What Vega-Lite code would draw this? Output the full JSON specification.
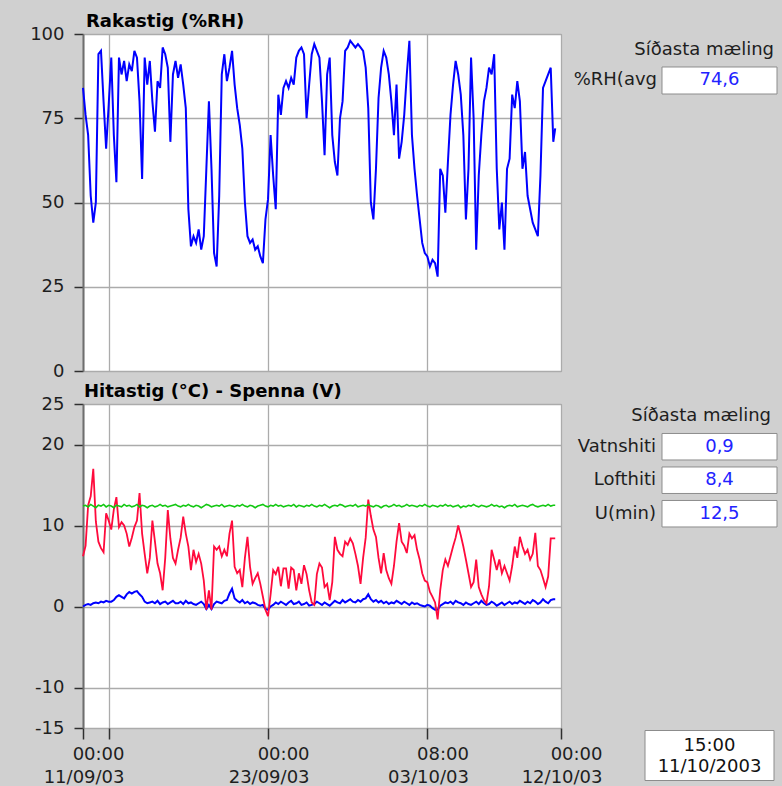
{
  "$schema": "https://vega.github.io/schema/vega-lite/v6.json",
  "background": "#d0d0d0",
  "padding": {"left": 29, "top": 12, "right": 4, "bottom": 4},
  "datasets": {
    "d": [
      {"t":"2003-09-11T00:00Z","rh":84,"a":6.2,"w":0.0,"v":12.4},
      {"t":"2003-09-11T04:00Z","rh":76,"a":7.5,"w":0.2,"v":12.5},
      {"t":"2003-09-11T08:00Z","rh":70,"a":12.5,"w":0.3,"v":12.3},
      {"t":"2003-09-11T12:00Z","rh":52,"a":13.6,"w":0.2,"v":12.6},
      {"t":"2003-09-11T16:00Z","rh":44,"a":17.0,"w":0.4,"v":12.4},
      {"t":"2003-09-11T20:00Z","rh":50,"a":10.5,"w":0.5,"v":12.2},
      {"t":"2003-09-12T00:00Z","rh":94,"a":8.0,"w":0.4,"v":12.5},
      {"t":"2003-09-12T04:00Z","rh":95,"a":7.2,"w":0.6,"v":12.4},
      {"t":"2003-09-12T08:00Z","rh":80,"a":6.7,"w":0.5,"v":12.6},
      {"t":"2003-09-12T12:00Z","rh":66,"a":11.5,"w":0.7,"v":12.3},
      {"t":"2003-09-12T16:00Z","rh":79,"a":10.6,"w":0.6,"v":12.5},
      {"t":"2003-09-12T20:00Z","rh":93,"a":9.5,"w":0.6,"v":12.4},
      {"t":"2003-09-13T00:00Z","rh":70,"a":12.0,"w":0.8,"v":12.2},
      {"t":"2003-09-13T04:00Z","rh":56,"a":13.5,"w":1.2,"v":12.5},
      {"t":"2003-09-13T08:00Z","rh":93,"a":9.8,"w":1.4,"v":12.4},
      {"t":"2003-09-13T12:00Z","rh":88,"a":10.4,"w":1.2,"v":12.3},
      {"t":"2003-09-13T16:00Z","rh":92,"a":10.0,"w":1.0,"v":12.6},
      {"t":"2003-09-13T20:00Z","rh":86,"a":9.0,"w":1.5,"v":12.4},
      {"t":"2003-09-14T00:00Z","rh":91,"a":7.4,"w":1.8,"v":12.5},
      {"t":"2003-09-14T04:00Z","rh":89,"a":8.5,"w":1.6,"v":12.3},
      {"t":"2003-09-14T08:00Z","rh":95,"a":9.8,"w":1.8,"v":12.4},
      {"t":"2003-09-14T12:00Z","rh":93,"a":10.6,"w":1.9,"v":12.6},
      {"t":"2003-09-14T16:00Z","rh":80,"a":14.0,"w":1.5,"v":12.3},
      {"t":"2003-09-14T20:00Z","rh":57,"a":9.0,"w":1.2,"v":12.5},
      {"t":"2003-09-15T00:00Z","rh":93,"a":6.5,"w":0.6,"v":12.4},
      {"t":"2003-09-15T04:00Z","rh":85,"a":4.1,"w":0.4,"v":12.2},
      {"t":"2003-09-15T08:00Z","rh":92,"a":6.0,"w":0.5,"v":12.4},
      {"t":"2003-09-15T12:00Z","rh":80,"a":10.6,"w":0.6,"v":12.5},
      {"t":"2003-09-15T16:00Z","rh":71,"a":8.0,"w":0.4,"v":12.3},
      {"t":"2003-09-15T20:00Z","rh":86,"a":5.3,"w":0.7,"v":12.4},
      {"t":"2003-09-16T00:00Z","rh":84,"a":4.1,"w":0.3,"v":12.6},
      {"t":"2003-09-16T04:00Z","rh":96,"a":2.0,"w":0.5,"v":12.4},
      {"t":"2003-09-16T08:00Z","rh":94,"a":6.0,"w":0.6,"v":12.5},
      {"t":"2003-09-16T12:00Z","rh":90,"a":11.9,"w":0.3,"v":12.3},
      {"t":"2003-09-16T16:00Z","rh":68,"a":8.4,"w":0.5,"v":12.4},
      {"t":"2003-09-16T20:00Z","rh":88,"a":6.0,"w":0.7,"v":12.5},
      {"t":"2003-09-17T00:00Z","rh":92,"a":5.3,"w":0.4,"v":12.6},
      {"t":"2003-09-17T04:00Z","rh":87,"a":7.0,"w":0.4,"v":12.4},
      {"t":"2003-09-17T08:00Z","rh":91,"a":8.5,"w":0.6,"v":12.3},
      {"t":"2003-09-17T12:00Z","rh":85,"a":11.1,"w":0.3,"v":12.5},
      {"t":"2003-09-17T16:00Z","rh":78,"a":9.0,"w":0.7,"v":12.4},
      {"t":"2003-09-17T20:00Z","rh":48,"a":7.4,"w":0.4,"v":12.6},
      {"t":"2003-09-18T00:00Z","rh":37,"a":4.5,"w":0.5,"v":12.4},
      {"t":"2003-09-18T04:00Z","rh":40,"a":7.0,"w":0.3,"v":12.3},
      {"t":"2003-09-18T08:00Z","rh":38,"a":5.5,"w":0.2,"v":12.5},
      {"t":"2003-09-18T12:00Z","rh":42,"a":6.5,"w":0.4,"v":12.4},
      {"t":"2003-09-18T16:00Z","rh":36,"a":5.3,"w":0.6,"v":12.2},
      {"t":"2003-09-18T20:00Z","rh":40,"a":3.2,"w":0.3,"v":12.4},
      {"t":"2003-09-19T00:00Z","rh":60,"a":-0.4,"w":-0.3,"v":12.6},
      {"t":"2003-09-19T04:00Z","rh":80,"a":2.0,"w":0.2,"v":12.5},
      {"t":"2003-09-19T08:00Z","rh":60,"a":-0.4,"w":-0.3,"v":12.3},
      {"t":"2003-09-19T12:00Z","rh":35,"a":7.4,"w":0.3,"v":12.4},
      {"t":"2003-09-19T16:00Z","rh":31,"a":7.0,"w":0.6,"v":12.5},
      {"t":"2003-09-19T20:00Z","rh":52,"a":7.4,"w":0.5,"v":12.4},
      {"t":"2003-09-20T00:00Z","rh":88,"a":6.2,"w":0.4,"v":12.6},
      {"t":"2003-09-20T04:00Z","rh":94,"a":7.0,"w":0.7,"v":12.3},
      {"t":"2003-09-20T08:00Z","rh":86,"a":6.2,"w":0.8,"v":12.4},
      {"t":"2003-09-20T12:00Z","rh":90,"a":9.0,"w":1.6,"v":12.5},
      {"t":"2003-09-20T16:00Z","rh":95,"a":10.6,"w":2.2,"v":12.4},
      {"t":"2003-09-20T20:00Z","rh":85,"a":4.9,"w":1.0,"v":12.3},
      {"t":"2003-09-21T00:00Z","rh":78,"a":4.1,"w":0.7,"v":12.5},
      {"t":"2003-09-21T04:00Z","rh":73,"a":4.5,"w":0.5,"v":12.4},
      {"t":"2003-09-21T08:00Z","rh":66,"a":2.4,"w":0.8,"v":12.6},
      {"t":"2003-09-21T12:00Z","rh":50,"a":6.0,"w":0.4,"v":12.4},
      {"t":"2003-09-21T16:00Z","rh":40,"a":8.6,"w":0.6,"v":12.3},
      {"t":"2003-09-21T20:00Z","rh":38,"a":4.9,"w":0.3,"v":12.5},
      {"t":"2003-09-22T00:00Z","rh":39,"a":2.8,"w":0.5,"v":12.4},
      {"t":"2003-09-22T04:00Z","rh":36,"a":3.5,"w":0.4,"v":12.2},
      {"t":"2003-09-22T08:00Z","rh":37,"a":4.1,"w":0.2,"v":12.4},
      {"t":"2003-09-22T12:00Z","rh":34,"a":2.8,"w":0.1,"v":12.5},
      {"t":"2003-09-22T16:00Z","rh":32,"a":1.2,"w":0.2,"v":12.6},
      {"t":"2003-09-22T20:00Z","rh":45,"a":-0.4,"w":-0.3,"v":12.4},
      {"t":"2003-09-23T00:00Z","rh":51,"a":-1.2,"w":-0.4,"v":12.3},
      {"t":"2003-09-23T04:00Z","rh":70,"a":1.5,"w":0.0,"v":12.5},
      {"t":"2003-09-23T08:00Z","rh":58,"a":4.5,"w":0.2,"v":12.4},
      {"t":"2003-09-23T12:00Z","rh":48,"a":4.0,"w":0.5,"v":12.6},
      {"t":"2003-09-23T16:00Z","rh":82,"a":4.9,"w":0.3,"v":12.4},
      {"t":"2003-09-23T20:00Z","rh":76,"a":2.5,"w":0.6,"v":12.5},
      {"t":"2003-09-24T00:00Z","rh":84,"a":4.7,"w":0.4,"v":12.3},
      {"t":"2003-09-24T04:00Z","rh":86,"a":4.7,"w":0.2,"v":12.4},
      {"t":"2003-09-24T08:00Z","rh":84,"a":2.2,"w":0.5,"v":12.5},
      {"t":"2003-09-24T12:00Z","rh":87,"a":4.8,"w":0.7,"v":12.4},
      {"t":"2003-09-24T16:00Z","rh":85,"a":4.5,"w":0.3,"v":12.6},
      {"t":"2003-09-24T20:00Z","rh":93,"a":2.0,"w":0.4,"v":12.3},
      {"t":"2003-09-25T00:00Z","rh":95,"a":4.1,"w":0.6,"v":12.5},
      {"t":"2003-09-25T04:00Z","rh":96,"a":2.8,"w":0.2,"v":12.4},
      {"t":"2003-09-25T08:00Z","rh":94,"a":5.1,"w":0.3,"v":12.3},
      {"t":"2003-09-25T12:00Z","rh":75,"a":4.0,"w":0.5,"v":12.5},
      {"t":"2003-09-25T16:00Z","rh":85,"a":2.0,"w":0.1,"v":12.4},
      {"t":"2003-09-25T20:00Z","rh":94,"a":0.5,"w":0.2,"v":12.6},
      {"t":"2003-09-26T00:00Z","rh":97,"a":0.2,"w":0.3,"v":12.4},
      {"t":"2003-09-26T04:00Z","rh":95,"a":4.0,"w":0.6,"v":12.3},
      {"t":"2003-09-26T08:00Z","rh":93,"a":5.3,"w":0.4,"v":12.5},
      {"t":"2003-09-26T12:00Z","rh":80,"a":4.8,"w":0.2,"v":12.4},
      {"t":"2003-09-26T16:00Z","rh":64,"a":2.4,"w":0.5,"v":12.6},
      {"t":"2003-09-26T20:00Z","rh":88,"a":2.8,"w":0.3,"v":12.4},
      {"t":"2003-09-27T00:00Z","rh":93,"a":0.8,"w":0.1,"v":12.2},
      {"t":"2003-09-27T04:00Z","rh":70,"a":3.0,"w":0.4,"v":12.4},
      {"t":"2003-09-27T08:00Z","rh":62,"a":8.6,"w":0.7,"v":12.5},
      {"t":"2003-09-27T12:00Z","rh":58,"a":7.0,"w":0.5,"v":12.4},
      {"t":"2003-09-27T16:00Z","rh":75,"a":6.5,"w":0.4,"v":12.6},
      {"t":"2003-09-27T20:00Z","rh":80,"a":6.2,"w":0.8,"v":12.5},
      {"t":"2003-09-28T00:00Z","rh":95,"a":8.0,"w":0.5,"v":12.3},
      {"t":"2003-09-28T04:00Z","rh":96,"a":7.6,"w":0.7,"v":12.4},
      {"t":"2003-09-28T08:00Z","rh":98,"a":8.4,"w":0.9,"v":12.5},
      {"t":"2003-09-28T12:00Z","rh":97,"a":7.8,"w":0.6,"v":12.4},
      {"t":"2003-09-28T16:00Z","rh":96,"a":6.5,"w":0.5,"v":12.6},
      {"t":"2003-09-28T20:00Z","rh":97,"a":5.0,"w":0.8,"v":12.3},
      {"t":"2003-09-29T00:00Z","rh":96,"a":2.8,"w":0.6,"v":12.4},
      {"t":"2003-09-29T04:00Z","rh":95,"a":6.0,"w":0.9,"v":12.5},
      {"t":"2003-09-29T08:00Z","rh":90,"a":8.5,"w":1.0,"v":12.4},
      {"t":"2003-09-29T12:00Z","rh":78,"a":13.2,"w":1.5,"v":12.6},
      {"t":"2003-09-29T16:00Z","rh":50,"a":11.2,"w":0.9,"v":12.4},
      {"t":"2003-09-29T20:00Z","rh":45,"a":9.5,"w":0.6,"v":12.3},
      {"t":"2003-09-30T00:00Z","rh":60,"a":8.6,"w":0.8,"v":12.5},
      {"t":"2003-09-30T04:00Z","rh":81,"a":6.0,"w":0.5,"v":12.4},
      {"t":"2003-09-30T08:00Z","rh":90,"a":4.1,"w":0.7,"v":12.2},
      {"t":"2003-09-30T12:00Z","rh":95,"a":6.6,"w":0.4,"v":12.4},
      {"t":"2003-09-30T16:00Z","rh":93,"a":4.5,"w":0.6,"v":12.5},
      {"t":"2003-09-30T20:00Z","rh":88,"a":3.5,"w":0.3,"v":12.3},
      {"t":"2003-10-01T00:00Z","rh":80,"a":2.8,"w":0.5,"v":12.4},
      {"t":"2003-10-01T04:00Z","rh":70,"a":5.0,"w":0.4,"v":12.6},
      {"t":"2003-10-01T08:00Z","rh":85,"a":8.0,"w":0.7,"v":12.4},
      {"t":"2003-10-01T12:00Z","rh":63,"a":10.3,"w":0.5,"v":12.5},
      {"t":"2003-10-01T16:00Z","rh":68,"a":8.0,"w":0.3,"v":12.3},
      {"t":"2003-10-01T20:00Z","rh":76,"a":7.5,"w":0.6,"v":12.4},
      {"t":"2003-10-02T00:00Z","rh":88,"a":6.6,"w":0.4,"v":12.6},
      {"t":"2003-10-02T04:00Z","rh":98,"a":9.0,"w":0.2,"v":12.4},
      {"t":"2003-10-02T08:00Z","rh":70,"a":8.4,"w":0.5,"v":12.5},
      {"t":"2003-10-02T12:00Z","rh":60,"a":8.8,"w":0.3,"v":12.4},
      {"t":"2003-10-02T16:00Z","rh":52,"a":7.0,"w":0.4,"v":12.3},
      {"t":"2003-10-02T20:00Z","rh":45,"a":5.8,"w":0.2,"v":12.5},
      {"t":"2003-10-03T00:00Z","rh":38,"a":4.1,"w":0.1,"v":12.4},
      {"t":"2003-10-03T04:00Z","rh":35,"a":3.2,"w":0.0,"v":12.6},
      {"t":"2003-10-03T08:00Z","rh":34,"a":3.0,"w":0.2,"v":12.4},
      {"t":"2003-10-03T12:00Z","rh":31,"a":1.8,"w":0.1,"v":12.3},
      {"t":"2003-10-03T16:00Z","rh":33,"a":1.2,"w":-0.2,"v":12.5},
      {"t":"2003-10-03T20:00Z","rh":32,"a":0.5,"w":-0.4,"v":12.4},
      {"t":"2003-10-04T00:00Z","rh":28,"a":-1.6,"w":-0.4,"v":12.3},
      {"t":"2003-10-04T04:00Z","rh":60,"a":2.0,"w":0.1,"v":12.5},
      {"t":"2003-10-04T08:00Z","rh":58,"a":4.5,"w":0.3,"v":12.4},
      {"t":"2003-10-04T12:00Z","rh":47,"a":5.8,"w":0.5,"v":12.6},
      {"t":"2003-10-04T16:00Z","rh":62,"a":5.0,"w":0.4,"v":12.4},
      {"t":"2003-10-04T20:00Z","rh":76,"a":6.2,"w":0.6,"v":12.5},
      {"t":"2003-10-05T00:00Z","rh":85,"a":7.4,"w":0.3,"v":12.3},
      {"t":"2003-10-05T04:00Z","rh":92,"a":8.5,"w":0.7,"v":12.4},
      {"t":"2003-10-05T08:00Z","rh":88,"a":10.0,"w":0.5,"v":12.5},
      {"t":"2003-10-05T12:00Z","rh":82,"a":8.8,"w":0.4,"v":12.2},
      {"t":"2003-10-05T16:00Z","rh":70,"a":7.4,"w":0.2,"v":12.4},
      {"t":"2003-10-05T20:00Z","rh":45,"a":5.8,"w":0.5,"v":12.3},
      {"t":"2003-10-06T00:00Z","rh":60,"a":4.1,"w":0.3,"v":12.5},
      {"t":"2003-10-06T04:00Z","rh":93,"a":2.4,"w":0.2,"v":12.4},
      {"t":"2003-10-06T08:00Z","rh":75,"a":3.0,"w":0.4,"v":12.6},
      {"t":"2003-10-06T12:00Z","rh":36,"a":5.8,"w":0.6,"v":12.4},
      {"t":"2003-10-06T16:00Z","rh":58,"a":2.4,"w":0.3,"v":12.3},
      {"t":"2003-10-06T20:00Z","rh":70,"a":1.5,"w":0.7,"v":12.5},
      {"t":"2003-10-07T00:00Z","rh":80,"a":0.8,"w":0.4,"v":12.4},
      {"t":"2003-10-07T04:00Z","rh":84,"a":0.4,"w":0.2,"v":12.3},
      {"t":"2003-10-07T08:00Z","rh":90,"a":2.5,"w":0.3,"v":12.4},
      {"t":"2003-10-07T12:00Z","rh":88,"a":7.0,"w":0.6,"v":12.6},
      {"t":"2003-10-07T16:00Z","rh":94,"a":5.8,"w":0.4,"v":12.4},
      {"t":"2003-10-07T20:00Z","rh":60,"a":4.5,"w":0.1,"v":12.5},
      {"t":"2003-10-08T00:00Z","rh":42,"a":5.8,"w":0.3,"v":12.3},
      {"t":"2003-10-08T04:00Z","rh":50,"a":4.1,"w":0.5,"v":12.4},
      {"t":"2003-10-08T08:00Z","rh":36,"a":5.0,"w":0.2,"v":12.2},
      {"t":"2003-10-08T12:00Z","rh":60,"a":4.1,"w":0.4,"v":12.4},
      {"t":"2003-10-08T16:00Z","rh":63,"a":3.2,"w":0.6,"v":12.5},
      {"t":"2003-10-08T20:00Z","rh":82,"a":5.0,"w":0.3,"v":12.4},
      {"t":"2003-10-09T00:00Z","rh":78,"a":7.4,"w":0.5,"v":12.6},
      {"t":"2003-10-09T04:00Z","rh":86,"a":6.0,"w":0.4,"v":12.3},
      {"t":"2003-10-09T08:00Z","rh":80,"a":8.6,"w":0.7,"v":12.4},
      {"t":"2003-10-09T12:00Z","rh":60,"a":7.4,"w":0.5,"v":12.5},
      {"t":"2003-10-09T16:00Z","rh":65,"a":6.5,"w":0.3,"v":12.4},
      {"t":"2003-10-09T20:00Z","rh":52,"a":7.0,"w":0.6,"v":12.3},
      {"t":"2003-10-10T00:00Z","rh":48,"a":5.8,"w":0.4,"v":12.5},
      {"t":"2003-10-10T04:00Z","rh":44,"a":6.5,"w":0.8,"v":12.6},
      {"t":"2003-10-10T08:00Z","rh":42,"a":9.1,"w":0.6,"v":12.4},
      {"t":"2003-10-10T12:00Z","rh":40,"a":5.0,"w":0.3,"v":12.3},
      {"t":"2003-10-10T16:00Z","rh":58,"a":4.5,"w":0.5,"v":12.4},
      {"t":"2003-10-10T20:00Z","rh":84,"a":3.5,"w":0.9,"v":12.5},
      {"t":"2003-10-11T00:00Z","rh":86,"a":2.4,"w":0.6,"v":12.4},
      {"t":"2003-10-11T04:00Z","rh":88,"a":3.7,"w":0.4,"v":12.6},
      {"t":"2003-10-11T08:00Z","rh":90,"a":8.4,"w":0.8,"v":12.4},
      {"t":"2003-10-11T12:00Z","rh":68,"a":8.4,"w":0.9,"v":12.5},
      {"t":"2003-10-11T15:00Z","rh":72,"a":8.4,"w":0.9,"v":12.5}
    ]
  },
  "columns": 2,
  "spacing": {"row": 33, "column": 84},
  "bounds": "flush",
  "align": "each",
  "concat": [
    {
      "width": 478,
      "height": 337,
      "title": {"text": "Rakastig (%RH)", "dx": 3},
      "data": {"name": "d"},
      "mark": {"type": "line", "color": "#0000ff", "strokeWidth": 2},
      "encoding": {
        "x": {
          "field": "t", "type": "temporal",
          "scale": {"type": "utc", "domain": [{"year": 2003, "month": 9, "date": 11, "utc": true}, {"year": 2003, "month": 10, "date": 12, "utc": true}]},
          "axis": {
            "title": null, "labels": false, "ticks": false, "domain": false, "grid": true,
            "values": [
              {"year": 2003, "month": 9, "date": 11, "utc": true},
              {"year": 2003, "month": 9, "date": 12, "hours": 16, "utc": true},
              {"year": 2003, "month": 9, "date": 23, "utc": true},
              {"year": 2003, "month": 10, "date": 3, "hours": 8, "utc": true},
              {"year": 2003, "month": 10, "date": 12, "utc": true}
            ]
          }
        },
        "y": {
          "field": "rh", "type": "quantitative",
          "scale": {"domain": [0, 100], "nice": false},
          "axis": {"title": null, "values": [0, 25, 50, 75, 100], "labelExpr": "'' + datum.value"}
        }
      }
    },
    {
      "width": 132,
      "height": 60,
      "view": {"fill": null, "stroke": null},
      "data": {"values": [{"hdr": "Síðasta mæling", "k": "%RH(avg", "val": "74,6"}]},
      "layer": [
        {
          "mark": {"type": "rect", "fill": "white", "stroke": "#8c8c8c", "strokeWidth": 1},
          "encoding": {
            "x": {"field": "hdr", "type": "nominal", "axis": null, "scale": {"type": "band", "paddingInner": 0, "paddingOuter": 0.0739, "align": 1}},
            "y": {"field": "k", "type": "nominal", "axis": null, "scale": {"type": "band", "domain": ["%RH(avg"], "paddingInner": 0, "paddingOuter": 0.611, "align": 1}}
          }
        },
        {
          "mark": {"type": "text", "align": "right", "baseline": "middle", "dx": -5, "fontSize": 18, "color": "#1e1e1e"},
          "encoding": {
            "x": {"field": "hdr", "type": "nominal", "axis": null, "bandPosition": 0, "scale": {"type": "band", "paddingInner": 0, "paddingOuter": 0.0739, "align": 1}},
            "y": {"field": "k", "type": "nominal", "axis": null, "bandPosition": 0.5, "scale": {"type": "band", "domain": ["%RH(avg"], "paddingInner": 0, "paddingOuter": 0.611, "align": 1}},
            "text": {"field": "k"}
          }
        },
        {
          "mark": {"type": "text", "align": "center", "baseline": "middle", "fontSize": 18},
          "encoding": {
            "x": {"field": "hdr", "type": "nominal", "axis": null, "bandPosition": 0.5, "scale": {"type": "band", "paddingInner": 0, "paddingOuter": 0.0739, "align": 1}},
            "y": {"field": "k", "type": "nominal", "axis": null, "bandPosition": 0.5, "scale": {"type": "band", "domain": ["%RH(avg"], "paddingInner": 0, "paddingOuter": 0.611, "align": 1}},
            "text": {"field": "val"},
            "color": {"field": "k", "type": "nominal", "legend": null, "scale": {"domain": ["%RH(avg"], "range": ["#2222ff"]}}
          }
        },
        {
          "mark": {"type": "text", "align": "right", "baseline": "middle", "dx": -3, "dy": -30.5, "fontSize": 18, "color": "#1e1e1e"},
          "encoding": {
            "x": {"field": "hdr", "type": "nominal", "axis": null, "bandPosition": 1, "scale": {"type": "band", "paddingInner": 0, "paddingOuter": 0.0739, "align": 1}},
            "y": {"field": "k", "type": "nominal", "axis": null, "bandPosition": 0.5, "scale": {"type": "band", "domain": ["%RH(avg"], "paddingInner": 0, "paddingOuter": 0.611, "align": 1}},
            "text": {"field": "hdr"}
          }
        }
      ]
    },
    {
      "width": 478,
      "height": 324,
      "title": {"text": "Hitastig (°C) - Spenna (V)", "dx": 1},
      "data": {"name": "d"},
      "encoding": {
        "x": {
          "field": "t", "type": "temporal",
          "scale": {"type": "utc", "domain": [{"year": 2003, "month": 9, "date": 11, "utc": true}, {"year": 2003, "month": 10, "date": 12, "utc": true}]},
          "axis": {
            "title": null, "grid": true, "domain": false, "ticks": true, "tickSize": 11,
            "labelOverlap": false, "labelFlush": false, "labelAlign": "right", "labelOffset": 41,
            "labelPadding": 6, "labelLineHeight": 23, "labelBaseline": "top",
            "labelExpr": "utchours(datum.value) == 16 ? '' : [utcFormat(datum.value, '%H:%M'), utcFormat(datum.value, '%d/%m/%y')]",
            "values": [
              {"year": 2003, "month": 9, "date": 11, "utc": true},
              {"year": 2003, "month": 9, "date": 12, "hours": 16, "utc": true},
              {"year": 2003, "month": 9, "date": 23, "utc": true},
              {"year": 2003, "month": 10, "date": 3, "hours": 8, "utc": true},
              {"year": 2003, "month": 10, "date": 12, "utc": true}
            ]
          }
        }
      },
      "layer": [
        {
          "mark": {"type": "line", "color": "#0000ff", "strokeWidth": 2},
          "encoding": {
            "y": {
              "field": "w", "type": "quantitative",
              "scale": {"domain": [-15, 25], "nice": false},
              "axis": {"title": null, "values": [-15, -10, 0, 10, 20, 25], "labelExpr": "'' + datum.value"}
            }
          }
        },
        {
          "mark": {"type": "line", "color": "#ff0a3c", "strokeWidth": 1.8},
          "encoding": {"y": {"field": "a", "type": "quantitative", "axis": {"title": null}}}
        },
        {
          "mark": {"type": "line", "color": "#12c812", "strokeWidth": 1.6},
          "encoding": {"y": {"field": "v", "type": "quantitative", "axis": {"title": null}}}
        }
      ]
    },
    {
      "vconcat": [
        {
          "width": 132,
          "height": 160.5,
          "view": {"fill": null, "stroke": null},
          "data": {"values": [
            {"hdr": "Síðasta mæling", "k": "Vatnshiti", "val": "0,9"},
            {"hdr": "Síðasta mæling", "k": "Lofthiti", "val": "8,4"},
            {"hdr": "Síðasta mæling", "k": "U(min)", "val": "12,5"}
          ]},
          "layer": [
            {
              "mark": {"type": "rect", "fill": "white", "stroke": "#8c8c8c", "strokeWidth": 1},
              "encoding": {
                "x": {"field": "hdr", "type": "nominal", "axis": null, "scale": {"type": "band", "paddingInner": 0, "paddingOuter": 0.0739, "align": 1}},
                "y": {"field": "k", "type": "nominal", "axis": null, "scale": {"type": "band", "domain": ["Vatnshiti", "Lofthiti", "U(min)"], "paddingInner": 0.209, "paddingOuter": 1, "align": 0.44}}
              }
            },
            {
              "mark": {"type": "text", "align": "right", "baseline": "middle", "dx": -6, "fontSize": 18, "color": "#1e1e1e"},
              "encoding": {
                "x": {"field": "hdr", "type": "nominal", "axis": null, "bandPosition": 0, "scale": {"type": "band", "paddingInner": 0, "paddingOuter": 0.0739, "align": 1}},
                "y": {"field": "k", "type": "nominal", "axis": null, "bandPosition": 0.5, "scale": {"type": "band", "domain": ["Vatnshiti", "Lofthiti", "U(min)"], "paddingInner": 0.209, "paddingOuter": 1, "align": 0.44}},
                "text": {"field": "k"}
              }
            },
            {
              "mark": {"type": "text", "align": "center", "baseline": "middle", "fontSize": 18},
              "encoding": {
                "x": {"field": "hdr", "type": "nominal", "axis": null, "bandPosition": 0.5, "scale": {"type": "band", "paddingInner": 0, "paddingOuter": 0.0739, "align": 1}},
                "y": {"field": "k", "type": "nominal", "axis": null, "bandPosition": 0.5, "scale": {"type": "band", "domain": ["Vatnshiti", "Lofthiti", "U(min)"], "paddingInner": 0.209, "paddingOuter": 1, "align": 0.44}},
                "text": {"field": "val"},
                "color": {"field": "k", "type": "nominal", "legend": null, "scale": {"domain": ["Vatnshiti", "Lofthiti", "U(min)"], "range": ["#1a1aff", "#ff1a4a", "#1ec81e"]}}
              }
            },
            {
              "mark": {"type": "text", "align": "right", "baseline": "middle", "dx": -6, "dy": -31, "fontSize": 18, "color": "#1e1e1e"},
              "encoding": {
                "x": {"field": "hdr", "type": "nominal", "axis": null, "bandPosition": 1, "scale": {"type": "band", "paddingInner": 0, "paddingOuter": 0.0739, "align": 1}},
                "y": {"field": "k", "type": "nominal", "axis": null, "bandPosition": 0.5, "scale": {"type": "band", "domain": ["Vatnshiti", "Lofthiti", "U(min)"], "paddingInner": 0.209, "paddingOuter": 1, "align": 0.44}},
                "text": {"condition": {"test": "datum.k == 'Vatnshiti'", "field": "hdr"}, "value": ""}
              }
            }
          ]
        },
        {
          "width": 132,
          "height": 50,
          "view": {"fill": null, "stroke": null},
          "data": {"values": [{"time": "15:00", "date": "11/10/2003"}]},
          "transform": [{"calculate": "datum.time + '|' + datum.date", "as": "stamp"}],
          "layer": [
            {
              "mark": {"type": "rect", "fill": "white", "stroke": "#8c8c8c", "strokeWidth": 1},
              "encoding": {
                "x": {"field": "date", "type": "nominal", "axis": null, "scale": {"type": "band", "paddingInner": 0, "paddingOuter": 0.0116, "align": 0}},
                "y": {"field": "date", "type": "nominal", "axis": null, "scale": {"type": "band", "paddingInner": 0, "paddingOuter": 0}}
              }
            },
            {
              "mark": {"type": "text", "align": "center", "baseline": "middle", "dy": -10, "lineBreak": "|", "lineHeight": 21, "fontSize": 18, "color": "#111111"},
              "encoding": {
                "x": {"field": "date", "type": "nominal", "axis": null, "bandPosition": 0.5, "scale": {"type": "band", "paddingInner": 0, "paddingOuter": 0.0116, "align": 0}},
                "y": {"field": "date", "type": "nominal", "axis": null, "bandPosition": 0.5, "scale": {"type": "band", "paddingInner": 0, "paddingOuter": 0}},
                "text": {"field": "stamp"}
              }
            }
          ]
        }
      ],
      "spacing": 165.5,
      "bounds": "flush"
    }
  ],
  "config": {
    "font": "DejaVu Sans",
    "view": {"fill": "white", "stroke": "#9a9a9a", "strokeWidth": 1},
    "axis": {
      "labelFont": "DejaVu Sans", "labelFontSize": 18, "labelColor": "#1e1e1e",
      "gridColor": "#ababab", "gridWidth": 1.3,
      "tickColor": "#303030", "tickWidth": 1.5,
      "domainColor": "#6e6e6e", "domainWidth": 2
    },
    "axisY": {"tickSize": 9, "labelPadding": 10},
    "title": {"font": "DejaVu Sans", "fontSize": 18, "fontWeight": "bold", "color": "#000000", "anchor": "start", "frame": "group", "offset": -6},
    "text": {"font": "DejaVu Sans", "fontSize": 18}
  }
}
